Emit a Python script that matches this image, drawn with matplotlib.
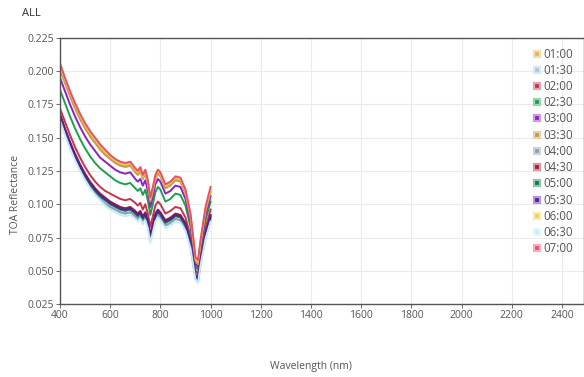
import matplotlib
matplotlib.use('Agg')
import matplotlib.pyplot as plt

plt.rcParams['font.family'] = ['Open Sans', 'DejaVu Sans']

wavelength = [400, 420, 440, 460, 480, 500, 520, 540, 560, 580, 600, 620, 640, 660, 680,
              700, 710, 720, 730, 740, 750, 760, 770, 780, 790, 800, 820, 840, 860, 880,
              900, 920, 940, 950, 960, 980, 1000]

times = ['01:00', '01:30', '02:00', '02:30', '03:00', '03:30', '04:00',
         '04:30', '05:00', '05:30', '06:00', '06:30', '07:00']

refl_0100 = [0.203, .193, .183, .174, .166, .159, .153, .148, .143, .139, .135, .132, .130, .129, .130,
             .125, .123, .126, .120, .124, .116, .103, .111, .120, .124, .122, .113, .115, .119, .118,
             .109, .091, .058, .056, .071, .096, .110]
refl_0130 = [0.165, .154, .144, .135, .127, .120, .114, .109, .105, .101, .098, .096, .094, .093, .094,
             .091, .089, .091, .087, .090, .084, .073, .081, .089, .092, .090, .084, .086, .089, .088,
             .082, .069, .045, .043, .056, .076, .089]
refl_0200 = [0.172, .162, .152, .143, .135, .128, .122, .117, .113, .110, .108, .106, .104, .103, .104,
             .101, .099, .101, .096, .100, .093, .083, .091, .099, .102, .100, .093, .095, .098, .097,
             .090, .076, .050, .048, .061, .082, .096]
refl_0230 = [0.186, .176, .166, .157, .149, .142, .136, .131, .127, .124, .121, .118, .116, .115, .116,
             .112, .110, .112, .107, .111, .103, .092, .100, .109, .113, .111, .102, .104, .108, .107,
             .099, .083, .053, .051, .065, .088, .102]
refl_0300 = [0.195, .185, .175, .166, .158, .151, .145, .140, .135, .132, .129, .126, .124, .123, .124,
             .119, .117, .119, .114, .118, .110, .098, .106, .115, .119, .117, .108, .110, .114, .113,
             .104, .087, .055, .053, .068, .092, .106]
refl_0330 = [0.201, .191, .181, .172, .164, .157, .151, .146, .141, .137, .134, .131, .129, .128, .129,
             .124, .122, .125, .119, .123, .115, .102, .110, .119, .123, .121, .112, .114, .118, .117,
             .108, .090, .057, .055, .070, .095, .109]
refl_0400 = [0.164, .153, .143, .134, .126, .119, .113, .108, .104, .100, .098, .096, .094, .093, .094,
             .091, .089, .091, .087, .090, .084, .073, .081, .089, .092, .090, .084, .086, .089, .088,
             .082, .068, .044, .042, .055, .075, .088]
refl_0430 = [0.168, .157, .147, .138, .130, .123, .117, .112, .108, .105, .102, .100, .098, .097, .098,
             .095, .093, .095, .091, .094, .088, .077, .085, .093, .096, .094, .088, .090, .093, .092,
             .086, .072, .047, .045, .058, .079, .092]
refl_0500 = [0.166, .155, .145, .136, .128, .121, .115, .110, .106, .103, .100, .098, .096, .095, .096,
             .093, .091, .093, .089, .092, .086, .075, .083, .091, .094, .092, .086, .088, .091, .090,
             .084, .070, .046, .044, .057, .077, .090]
refl_0530 = [0.167, .156, .146, .137, .129, .122, .116, .111, .107, .104, .101, .099, .097, .096, .097,
             .094, .092, .094, .090, .093, .087, .076, .084, .092, .095, .093, .087, .089, .092, .091,
             .085, .071, .046, .044, .057, .078, .091]
refl_0600 = [0.204, .194, .184, .175, .167, .160, .154, .149, .144, .140, .136, .133, .131, .130, .131,
             .126, .124, .127, .121, .125, .117, .104, .112, .121, .125, .123, .114, .116, .120, .119,
             .110, .092, .059, .057, .072, .097, .111]
refl_0630 = [0.163, .152, .142, .133, .125, .118, .112, .107, .103, .099, .096, .094, .092, .091, .092,
             .089, .087, .089, .085, .088, .082, .071, .079, .087, .090, .088, .082, .084, .087, .086,
             .080, .067, .043, .041, .054, .074, .087]
refl_0700 = [0.206, .195, .185, .176, .168, .161, .155, .150, .145, .141, .137, .134, .132, .131, .132,
             .127, .125, .128, .122, .126, .118, .105, .113, .122, .126, .124, .115, .117, .121, .120,
             .111, .093, .060, .058, .073, .098, .113]

series = [refl_0100, refl_0130, refl_0200, refl_0230, refl_0300, refl_0330, refl_0400,
          refl_0430, refl_0500, refl_0530, refl_0600, refl_0630, refl_0700]

colors = ['#e3b654', '#a9c8e8', '#c4344c', '#1f9e50', '#8a22c4', '#c79a4c', '#8a9fb2',
          '#a41c2e', '#0f7a45', '#5c1b9c', '#f0d24e', '#c4ecf6', '#e8506a']

fig = plt.figure(figsize=(5.84, 3.77), dpi=100)
ax = fig.add_axes([60/584, 1 - 304/377, 1 - 60/584, (304 - 38)/377])

for t, vals, c in zip(times, series, colors):
    ax.plot(wavelength, vals, color=c, lw=1.4, label=t,
            marker='s', markevery=[], markersize=4.8,
            markerfacecolor=c, markeredgecolor=matplotlib.colors.to_hex(
                [min(1, v * 0.45 + 0.55) for v in matplotlib.colors.to_rgb(c)]),
            markeredgewidth=1.6)

ax.set_xlim(400, 2488)
ax.set_ylim(0.025, 0.225)
ax.set_xticks(range(400, 2401, 200))
ax.set_yticks([0.025 + 0.025 * i for i in range(9)])
ax.set_yticklabels(['%.3f' % (0.025 + 0.025 * i) for i in range(9)])
ax.grid(True, color='#ebebeb', lw=0.8)
ax.set_axisbelow(True)
for s in ax.spines.values():
    s.set_color('#555555')
    s.set_linewidth(1.0)
ax.tick_params(labelsize=7.5, colors='#555555', length=3, width=0.6, pad=1.5)

ax.set_xlabel('Wavelength (nm)', fontsize=7.5, color='#555555')
ax.xaxis.set_label_coords((311 - 60) / 524, -0.215)
ax.set_ylabel('TOA Reflectance', fontsize=7.5, color='#555555')
ax.yaxis.set_label_coords(-0.075, 0.41)

fig.text(22/584, 1 - 14/377, 'ALL', fontsize=8, color='#333333', va='center')

leg = ax.legend(loc='upper right', bbox_to_anchor=(0.993, 0.99), frameon=False,
                fontsize=8.3, handlelength=0.6, handletextpad=0.3,
                labelspacing=0.28, borderaxespad=0.2)
for txt in leg.get_texts():
    txt.set_color('#555555')
for h in leg.legend_handles:
    h.set_linestyle('none')

fig.savefig('out.png', dpi=100)
